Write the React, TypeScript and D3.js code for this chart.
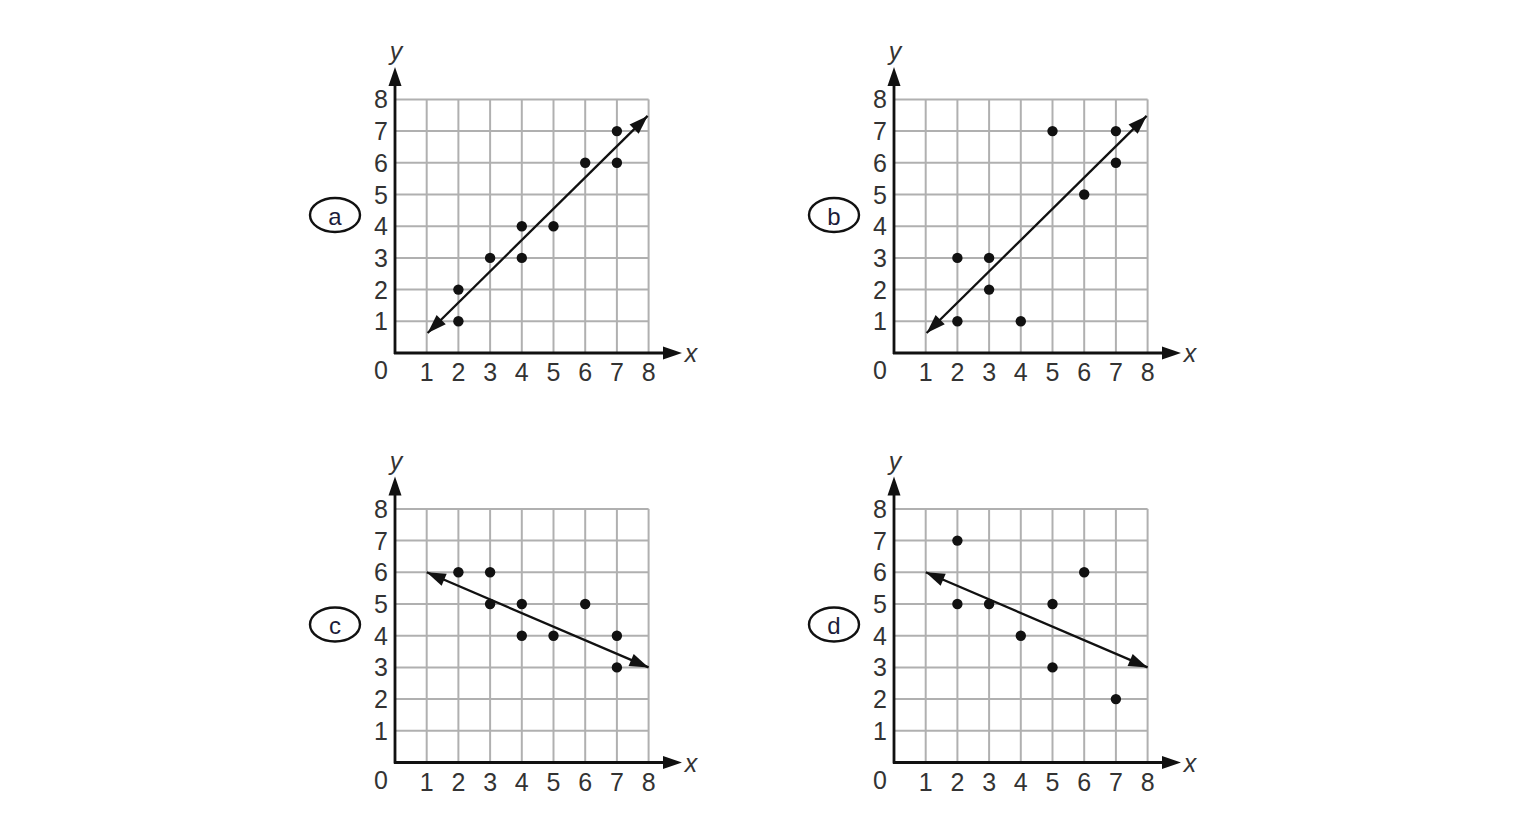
import React from 'react';
import * as d3 from 'd3';

// panel letters and the scatter data
const panelLabels = ['a', 'b', 'c', 'd'];

const pointsA: [number, number][] = [[2, 1], [2, 2], [3, 3], [4, 3], [4, 4], [5, 4], [6, 6], [7, 6], [7, 7]];
const pointsB: [number, number][] = [[2, 1], [2, 3], [3, 2], [3, 3], [4, 1], [5, 7], [6, 5], [7, 6], [7, 7]];
const pointsC: [number, number][] = [[2, 6], [3, 5], [3, 6], [4, 4], [4, 5], [5, 4], [6, 5], [7, 3], [7, 4]];
const pointsD: [number, number][] = [[2, 5], [2, 7], [3, 5], [4, 4], [5, 3], [5, 5], [6, 6], [7, 2]];

// trend lines (start, end) in data units
const lineA: [number, number][] = [[1.03, 0.63], [7.97, 7.48]];
const lineB: [number, number][] = [[1.03, 0.63], [7.97, 7.48]];
const lineC: [number, number][] = [[1, 6], [8, 3]];
const lineD: [number, number][] = [[1, 6], [8, 3]];

const xTicks = [1, 2, 3, 4, 5, 6, 7, 8];
const yTicks = [1, 2, 3, 4, 5, 6, 7, 8];

const allPoints = [pointsA, pointsB, pointsC, pointsD];
const allLines = [lineA, lineB, lineC, lineD];

// layout: origin of each panel on the page
const origins: [number, number][] = [[395, 353], [894, 353], [395, 762.5], [894, 762.5]];
const UNIT = 31.7;
const FONT = '"Liberation Sans", Arial, sans-serif';

const arrowHead = (tx: number, ty: number, fx: number, fy: number, len = 19, half = 6.5) => {
  const a = Math.atan2(ty - fy, tx - fx);
  const bx = tx - len * Math.cos(a);
  const by = ty - len * Math.sin(a);
  const px = -Math.sin(a) * half;
  const py = Math.cos(a) * half;
  return `M${tx},${ty}L${bx + px},${by + py}L${bx - px},${by - py}Z`;
};

const Panel: React.FC<{ idx: number }> = ({ idx }) => {
  const [ox, oy] = origins[idx];
  const x = d3.scaleLinear().domain([0, 8]).range([ox, ox + 8 * UNIT]);
  const y = d3.scaleLinear().domain([0, 8]).range([oy, oy - 8 * UNIT]);
  const pts = allPoints[idx];
  const ln = allLines[idx];
  const [p0, p1] = ln.map(([a, b]) => [x(a), y(b)]);
  const yTip = oy - 286;
  const xTip = ox + 287;
  const labelY = oy - 138;

  return (
    <g>
      {/* grid */}
      {xTicks.map((t) => (
        <line key={'gx' + t} x1={x(t)} x2={x(t)} y1={y(0)} y2={y(8)} stroke="#b0b0b0" strokeWidth={2} />
      ))}
      {yTicks.map((t) => (
        <line key={'gy' + t} x1={x(0)} x2={x(8)} y1={y(t)} y2={y(t)} stroke="#b0b0b0" strokeWidth={2} />
      ))}

      {/* axes */}
      <line x1={ox} x2={ox} y1={oy + 1} y2={yTip + 10} stroke="#111" strokeWidth={2.8} />
      <path d={arrowHead(ox, yTip, ox, oy)} fill="#111" />
      <line x1={ox - 1} x2={xTip - 10} y1={oy} y2={oy} stroke="#111" strokeWidth={2.8} />
      <path d={arrowHead(xTip, oy, ox, oy)} fill="#111" />
      <text x={ox + 1} y={yTip - 16} fontFamily={FONT} fontStyle="italic" fontSize={25} fill="#333"
        textAnchor="middle" dominantBaseline="central">y</text>
      <text x={xTip + 9} y={oy} fontFamily={FONT} fontStyle="italic" fontSize={25} fill="#333"
        textAnchor="middle" dominantBaseline="central">x</text>

      {/* tick labels */}
      {yTicks.map((t) => (
        <text key={'ly' + t} x={ox - 7} y={y(t)} fontFamily={FONT} fontSize={25} fill="#333"
          textAnchor="end" dominantBaseline="central">{t}</text>
      ))}
      {xTicks.map((t) => (
        <text key={'lx' + t} x={x(t)} y={oy + 19} fontFamily={FONT} fontSize={25} fill="#333"
          textAnchor="middle" dominantBaseline="central">{t}</text>
      ))}
      <text x={ox - 14} y={oy + 17} fontFamily={FONT} fontSize={25} fill="#333"
        textAnchor="middle" dominantBaseline="central">0</text>

      {/* trend line with arrowheads */}
      <line x1={p0[0]} y1={p0[1]} x2={p1[0]} y2={p1[1]} stroke="#111" strokeWidth={2.3} />
      <path d={arrowHead(p0[0], p0[1], p1[0], p1[1])} fill="#111" />
      <path d={arrowHead(p1[0], p1[1], p0[0], p0[1])} fill="#111" />

      {/* points */}
      {pts.map(([a, b], i) => (
        <circle key={i} cx={x(a)} cy={y(b)} r={5.2} fill="#111" />
      ))}

      {/* circled letter */}
      <ellipse cx={ox - 60} cy={labelY} rx={25} ry={17} fill="none" stroke="#111" strokeWidth={2.4} />
      <text x={ox - 60} y={labelY + 1} fontFamily={FONT} fontSize={24} fill="#1c1c3a"
        textAnchor="middle" dominantBaseline="central">{panelLabels[idx]}</text>
    </g>
  );
};

const App: React.FC = () => (
  <svg width={1536} height={835} style={{ position: 'absolute', left: 0, top: 0, background: '#fff' }}>
    <rect width={1536} height={835} fill="#fff" />
    {panelLabels.map((_, i) => (
      <Panel key={i} idx={i} />
    ))}
  </svg>
);

export default App;
